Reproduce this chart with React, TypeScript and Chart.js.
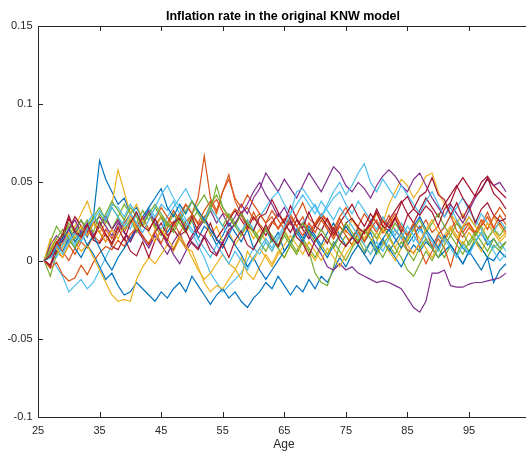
import React, { useEffect, useRef } from "react";
import { Chart, registerables } from "chart.js";

Chart.register(...registerables);

const TITLE = "Inflation rate in the original KNW model";
const X_LABEL = "Age";
const X_TICKS = [25, 35, 45, 55, 65, 75, 85, 95];
const X_TICK_LABELS = ["25", "35", "45", "55", "65", "75", "85", "95"];
const Y_TICKS = [0.15, 0.1, 0.05, 0, -0.05, -0.1];
const Y_TICK_LABELS = ["0.15", "0.1", "0.05", "0", "-0.05", "-0.1"];

const AGES = [
  26, 27, 28, 29, 30, 31, 32, 33, 34, 35,
  36, 37, 38, 39, 40, 41, 42, 43, 44, 45,
  46, 47, 48, 49, 50, 51, 52, 53, 54, 55,
  56, 57, 58, 59, 60, 61, 62, 63, 64, 65,
  66, 67, 68, 69, 70, 71, 72, 73, 74, 75,
  76, 77, 78, 79, 80, 81, 82, 83, 84, 85,
  86, 87, 88, 89, 90, 91, 92, 93, 94, 95,
  96, 97, 98, 99, 100, 101,
];

// inflation paths, in thousandths (0.001)
const S01 = [
  0, 8, 5, 14, 10, 18, 22, 15, 28, 64,
  52, 44, 36, 40, 30, 34, 26, 31, 22, 28,
  18, 24, 30, 20, 26, 14, 22, 18, 10, 16,
  24, 18, 12, 20, 8, 14, 20, 12, 18, 6,
  12, 20, 14, 22, 16, 10, 18, 24, 16, 10,
  14, 20, 12, 18, 8, 14, 6, 12, 18, 10,
  16, 22, 14, 8, 16, 12, 20, 14, 8, 4,
  12, 18, 10, 14, 8, 12,
];
const S02 = [
  0, -3, 6, 2, 10, 4, 12, 8, 16, 12,
  20, 14, 22, 18, 26, 20, 24, 30, 22, 28,
  24, 32, 26, 36, 30, 40, 67, 40, 32, 44,
  55, 38, 30, 34, 26, 30, 24, 28, 20, 26,
  30, 22, 28, 18, 24, 30, 26, 20, 28, 34,
  26, 22, 30, 24, 18, 26, 22, 28, 20, 16,
  24, 20, 26, 18, 22, 14, 20, 26, 18, 24,
  16, 22, 28, 20, 24, 18,
];
const S03 = [
  0, 6, 12, 8, 16, 22, 30, 38, 26, 18,
  24, 36, 58, 44, 30, 36, 26, 32, 20, 28,
  22, 30, 24, 18, 26, 20, 28, 16, 22, 12,
  18, 10, 16, 22, 14, 20, 12, 6, 14, 20,
  12, 18, 24, 16, 22, 28, 20, 14, 22, 18,
  26, 20, 14, 22, 30, 24, 36, 44, 52, 48,
  40, 46, 54, 56, 44, 36, 30, 24, 30, 22,
  18, 26, 20, 28, 22, 16,
];
const S04 = [
  0, 4, 10, 16, 12, 20, 26, 18, 24, 28,
  22, 16, 24, 18, 12, 20, 14, 8, 16, 10,
  4, 12, 18, 8, 14, 20, 26, 32, 24, 30,
  22, 28, 36, 30, 40, 46, 56, 50, 44, 52,
  46, 40, 48, 56, 50, 44, 52, 60, 56, 48,
  44, 50, 46, 40, 48, 54, 58, 54, 48, 44,
  52, 56, 48, 40, 34, 28, 36, 30, 24, 32,
  40, 46, 52, 48, 50, 44,
];
const S05 = [
  0, -10, 4, 16, 22, 14, 20, 26, 18, 30,
  24, 34, 28, 20, 26, 18, 24, 30, 22, 16,
  24, 20, 28, 22, 30, 36, 42, 34, 28, 22,
  30, 24, 18, 26, 20, 14, 22, 16, 10, 18,
  12, 6, 14, 8, 2, 10, 4, 12, 6, 0,
  8, 14, 6, 12, 4, 10, 16, 8, 2, -6,
  -10, -2, 6, 0, 8, 2, 10, 4, 12, 6,
  14, 8, 2, 10, 6, 12,
];
const S06 = [
  0, 4, -4, -10, -20, -16, -12, -18, -14, -6,
  2, 10, 18, 26, 20, 30, 24, 34, 28, 36,
  32, 38, 30, 24, 18, 10, 2, -8, -14, -20,
  -16, -12, -8, 0, 8, 4, 12, 6, 14, 20,
  26, 18, 24, 30, 36, 28, 34, 40, 44, 36,
  30, 38, 32, 26, 20, 28, 22, 16, 24, 18,
  12, 20, 14, 8, 16, 22, 28, 34, 40, 32,
  26, 20, 14, 8, 12, 6,
];
const S07 = [
  0, -4, 6, 12, 20, 28, 22, 16, 24, 18,
  12, 20, 26, 18, 14, 22, 16, 10, 18, 24,
  16, 20, 14, 8, 16, 22, 28, 20, 14, 20,
  26, 32, 26, 20, 28, 22, 16, 24, 30, 24,
  18, 26, 20, 14, 22, 28, 22, 16, 24, 30,
  36, 28, 22, 30, 24, 18, 26, 32, 38, 30,
  24, 32, 40, 34, 28, 36, 42, 48, 40, 34,
  42, 50, 54, 48, 44, 40,
];
const S08 = [
  0, 4, 10, 6, 14, 8, 2, 10, 4, -4,
  -12, -8, -16, -22, -20, -14, -18, -22, -26, -20,
  -24, -18, -14, -20, -10, -16, -22, -28, -22, -18,
  -24, -20, -26, -30, -24, -20, -14, -18, -10, -16,
  -22, -16, -20, -12, -18, -10, -14, -6, 2, -4,
  4, 10, 4, -2, 6, 12, 8, 2, -4, 4,
  10, 6, 12, 8, 2, 6, 10, 4, -2, 6,
  12, 8, 2, 0, 6, 2,
];
const S09 = [
  0, -5, -1, -9, -13, -11, -3, -9, -1, 5,
  9, 7, 13, 9, 17, 21, 15, 11, 19, 11,
  21, 25, 17, 25, 29, 23, 27, 35, 39, 31,
  27, 33, 29, 21, 31, 23, 19, 25, 21, 27,
  23, 29, 37, 27, 23, 29, 25, 17, 27, 19,
  15, 21, 17, 23, 31, 21, 29, 19, 15, 7,
  5, 11, 19, 9, 17, 21, 29, 19, 15, 21,
  17, 23, 31, 21, 29, 23,
];
const S10 = [
  0, 8, 14, 10, 18, 12, 6, 10, 2, -6,
  -14, -22, -26, -25, -26, -12, -4, 2, -2, 4,
  10, 6, 14, 8, 6, -4, -14, -20, -16, -18,
  -12, -6, 2, -8, -12, -4, 4, -2, 6, 2,
  10, 4, 12, 6, 0, 8, 14, 8, 2, 10,
  16, 10, 4, 12, 18, 12, 6, 0, 8, 14,
  20, 14, 8, 2, 10, 16, 22, 16, 10, 18,
  12, 6, 14, 20, 14, 18,
];
const S11 = [
  0, 12, 22, 16, 24, 18, 26, 20, 28, 34,
  26, 20, 28, 36, 30, 24, 32, 26, 34, 28,
  22, 30, 24, 18, 26, 32, 26, 36, 42, 34,
  28, 22, 16, 24, 18, 12, 20, 14, 8, 2,
  10, 4, 12, 6, -8, -14, -16, -4, 10, 16,
  10, 18, 12, 20, 14, 22, 16, 24, 18, 12,
  20, 26, 18, 24, 30, 22, 16, 24, 18, 10,
  16, 22, 14, 20, 16, 22,
];
const S12 = [
  0, 6, 2, 10, 16, 10, 18, 24, 30, 22,
  28, 36, 34, 28, 36, 30, 24, 32, 26, 20,
  28, 34, 40, 46, 38, 32, 26, 34, 28, 22,
  16, 24, 18, 26, 20, 28, 34, 40, 44, 36,
  30, 44, 46, 40, 34, 28, 36, 44, 50, 42,
  48, 56, 62, 50, 44, 52, 46, 40, 48, 42,
  36, 30, 38, 44, 36, 28, 34, 26, 20, 28,
  22, 30, 24, 18, 26, 20,
];
const S13 = [
  0, -3, 9, 14, 27, 19, 16, 23, 13, 11,
  17, 9, 7, 15, 6, 3, 12, 2, 13, 19,
  10, 7, 16, 19, 28, 18, 15, 24, 13, 11,
  20, 23, 31, 22, 19, 28, 30, 39, 31, 24,
  35, 27, 21, 31, 22, 19, 27, 18, 15, 24,
  27, 21, 18, 25, 31, 22, 19, 27, 18, 29,
  33, 41, 44, 53, 42, 39, 29, 37, 27, 35,
  24, 33, 37, 29, 25, 27,
];
const S14 = [
  0, 2, 8, 14, 20, 12, 18, 10, 16, 8,
  0, -6, 2, 8, 14, 20, 28, 34, 40, 46,
  34, 28, 36, 30, 38, 32, 26, 20, 14, 8,
  16, 10, 4, -4, 2, -6, -12, -6, 0, 6,
  12, 18, 12, 20, 14, 8, 2, 10, 16, 22,
  16, 10, 4, 12, 6, 14, 20, 14, 8, 16,
  22, 28, 20, 14, 8, 16, 10, 4, -2, 6,
  0, -6, 2, -14, -6, -2,
];
const S15 = [
  0, 4, 12, 6, 0, 8, 14, 20, 14, 22,
  16, 10, 18, 24, 30, 22, 28, 20, 26, 34,
  28, 22, 30, 36, 30, 24, 32, 38, 30, 44,
  52, 40, 34, 42, 36, 30, 24, 32, 26, 20,
  28, 22, 16, 24, 18, 26, 20, 14, 22, 16,
  10, 18, 12, 20, 26, 18, 24, 30, 22, 16,
  24, 8, -2, 6, 14, 8, -4, 10, 22, 24,
  18, 26, 20, 28, 34, 28,
];
const S16 = [
  0, 10, 16, 12, 20, 26, 18, 24, 16, 22,
  28, 20, 26, 18, 12, 20, 26, 32, 24, 18,
  12, 4, -2, 6, 12, 8, 16, 10, 4, 12,
  18, 24, 30, 36, 44, 50, 42, 36, 28, 34,
  26, 18, 24, 16, 10, 4, -4, -6, -2, -6,
  -4, -8, -10, -12, -14, -13, -14, -16, -18, -24,
  -30, -33, -26, -8, -8, -6, -16, -17, -17, -15,
  -14, -14, -13, -12, -11, -8,
];
const S17 = [
  0, 14, 8, 2, 10, 16, 22, 16, 24, 18,
  12, 20, 14, 22, 28, 20, 26, 18, 12, 20,
  14, 8, 16, 10, 2, -6, -12, -8, -2, 4,
  -2, -5, -12, 6, 0, 8, 2, -4, 4, 10,
  16, 10, 4, 12, 6, 0, 8, 2, -4, 4,
  10, 16, 10, 4, 12, 20, 14, 8, 16, 10,
  4, 12, 20, 26, 18, 12, 20, 14, 22, 28,
  22, 16, 24, 18, 12, 16,
];
const S18 = [
  0, 6, 14, 20, 14, 8, 16, 22, 28, 22,
  30, 38, 32, 26, 34, 28, 22, 30, 36, 30,
  24, 18, 26, 32, 38, 30, 24, 32, 48, 34,
  28, 22, 30, 24, 18, 12, 6, 14, 8, 16,
  10, 18, 24, 18, 12, 20, 14, 8, 16, 24,
  18, 12, 20, 14, 8, 2, 10, 4, 12, 6,
  0, 8, 14, 8, 2, 10, 16, 10, 4, 12,
  18, 12, 6, 14, 8, 12,
];
const S19 = [
  0, 2, 10, 4, 12, 18, 12, 20, 26, 32,
  26, 34, 28, 22, 30, 24, 18, 26, 34, 42,
  48, 40, 34, 26, 20, 14, 8, 2, 10, 4,
  -2, 6, 0, -6, 2, 8, 14, 8, 16, 22,
  30, 36, 42, 36, 30, 38, 32, 26, 34, 28,
  22, 16, 10, 4, 12, 6, 14, 20, 14, 22,
  16, 10, 18, 12, 6, 14, 8, 2, 10, 4,
  12, 18, 12, 6, 0, 4,
];
const S20 = [
  0, 3, 11, 17, 29, 18, 15, 23, 14, 25,
  17, 11, 21, 13, 24, 31, 22, 19, 27, 18,
  13, 24, 27, 19, 11, 7, 15, 6, 3, 11,
  2, 13, 19, 10, 7, 15, 23, 14, 9, 19,
  25, 15, 11, 3, 13, 17, 11, 21, 13, 9,
  15, 11, 19, 23, 33, 25, 21, 27, 37, 41,
  33, 29, 35, 31, 22, 33, 37, 47, 53, 47,
  41, 45, 53, 43, 39, 33,
];

const SERIES = [
  S01, S02, S03, S04, S05, S06, S07, S08, S09, S10,
  S11, S12, S13, S14, S15, S16, S17, S18, S19, S20,
];

const BLUE = "#0072BD";
const ORANGE = "#D95319";
const YELLOW = "#EDB120";
const PURPLE = "#7E2F8E";
const GREEN = "#77AC30";
const CYAN = "#4DBEEE";
const DARKRED = "#A2142F";

const SERIES_COLORS = [
  BLUE, ORANGE, YELLOW, PURPLE, GREEN, CYAN, DARKRED, BLUE, ORANGE, YELLOW,
  GREEN, CYAN, DARKRED, BLUE, ORANGE, PURPLE, YELLOW, GREEN, CYAN, DARKRED,
];

const UNIT = 0.001;
const AXIS_COLOR = "#262626";
const FONT_FAMILY = '"Liberation Sans", Arial, Helvetica, sans-serif';

const CANVAS_W = 545;
const CANVAS_H = 451;

const matlabAxes = {
  id: "matlabAxes",
  beforeDatasetsDraw(chart: any) {
    const { ctx, chartArea } = chart;
    const { left, right, top, bottom } = chartArea;
    const xs = chart.scales.x;
    const ys = chart.scales.y;
    const tick = 5;
    ctx.save();
    ctx.strokeStyle = AXIS_COLOR;
    ctx.lineWidth = 1;
    ctx.beginPath();
    ctx.moveTo(left + 0.5, top + 0.5);
    ctx.lineTo(left + 0.5, bottom + 0.5);
    ctx.moveTo(left, bottom + 0.5);
    ctx.lineTo(right + 20, bottom + 0.5);
    ctx.moveTo(left, top + 0.5);
    ctx.lineTo(right + 20, top + 0.5);
    for (const v of X_TICKS) {
      const px = Math.round(xs.getPixelForValue(v)) + 0.5;
      ctx.moveTo(px, bottom);
      ctx.lineTo(px, bottom - tick);
      ctx.moveTo(px, top);
      ctx.lineTo(px, top + tick);
    }
    for (const v of Y_TICKS) {
      const py = Math.round(ys.getPixelForValue(v)) + 0.5;
      ctx.moveTo(left, py);
      ctx.lineTo(left + tick, py);
    }
    ctx.stroke();
    ctx.restore();
  },
  afterDraw(chart: any) {
    const { ctx } = chart;
    const cx = 284;
    ctx.save();
    ctx.fillStyle = "#000000";
    ctx.textAlign = "center";
    ctx.textBaseline = "middle";
    ctx.font = `bold 12.5px ${FONT_FAMILY}`;
    ctx.fillText(TITLE, 283, 16.5);
    ctx.fillStyle = AXIS_COLOR;
    ctx.font = `12px ${FONT_FAMILY}`;
    ctx.fillText(X_LABEL, cx, 444.5);
    ctx.restore();
  },
};

export default function App() {
  const ref = useRef<HTMLCanvasElement>(null);

  useEffect(() => {
    if (!ref.current) return;
    const n = SERIES.length;
    const datasets = SERIES.map((s, i) => ({
      label: `Path ${i + 1}`,
      data: s.map((v, j) => ({ x: AGES[j], y: v * UNIT })),
      borderColor: SERIES_COLORS[i],
      backgroundColor: SERIES_COLORS[i],
      borderWidth: 1.2,
      pointRadius: 0,
      tension: 0,
      fill: false,
      order: n - i,
    }));

    const chart = new Chart(ref.current, {
      type: "line",
      data: { datasets },
      plugins: [matlabAxes],
      options: {
        animation: false,
        responsive: false,
        maintainAspectRatio: false,
        devicePixelRatio: 1,
        layout: { padding: { left: 0, top: 26, right: CANVAS_W - 530.6, bottom: 0 } },
        plugins: {
          legend: { display: false },
          tooltip: { enabled: false },
          title: { display: false },
        },
        scales: {
          x: {
            type: "linear",
            min: 25,
            max: 105,
            grid: { display: false, drawTicks: false },
            border: { display: false },
            afterBuildTicks: (scale: any) => {
              scale.ticks = X_TICKS.map((v) => ({ value: v }));
            },
            afterFit: (scale: any) => {
              scale.height = 34;
            },
            ticks: {
              autoSkip: false,
              maxRotation: 0,
              padding: 7,
              color: AXIS_COLOR,
              font: { family: FONT_FAMILY, size: 11 },
              callback: (v: any) => {
                const k = X_TICKS.indexOf(Number(v));
                return k >= 0 ? X_TICK_LABELS[k] : "";
              },
            },
          },
          y: {
            type: "linear",
            min: -0.1,
            max: 0.15,
            grid: { display: false, drawTicks: false },
            border: { display: false },
            afterBuildTicks: (scale: any) => {
              scale.ticks = Y_TICKS.map((v) => ({ value: v }));
            },
            afterFit: (scale: any) => {
              scale.width = 38;
            },
            ticks: {
              autoSkip: false,
              padding: 5.5,
              color: AXIS_COLOR,
              font: { family: FONT_FAMILY, size: 11 },
              callback: (v: any) => {
                const k = Y_TICKS.findIndex((t) => Math.abs(t - Number(v)) < 1e-9);
                return k >= 0 ? Y_TICK_LABELS[k] : "";
              },
            },
          },
        },
      },
    } as any);

    return () => chart.destroy();
  }, []);

  return (
    <div
      style={{
        position: "absolute",
        left: 0,
        top: 0,
        width: 526,
        height: 451,
        overflow: "hidden",
        background: "#ffffff",
      }}
    >
      <canvas
        ref={ref}
        width={CANVAS_W}
        height={CANVAS_H}
        style={{ display: "block", width: CANVAS_W, height: CANVAS_H }}
      />
    </div>
  );
}
